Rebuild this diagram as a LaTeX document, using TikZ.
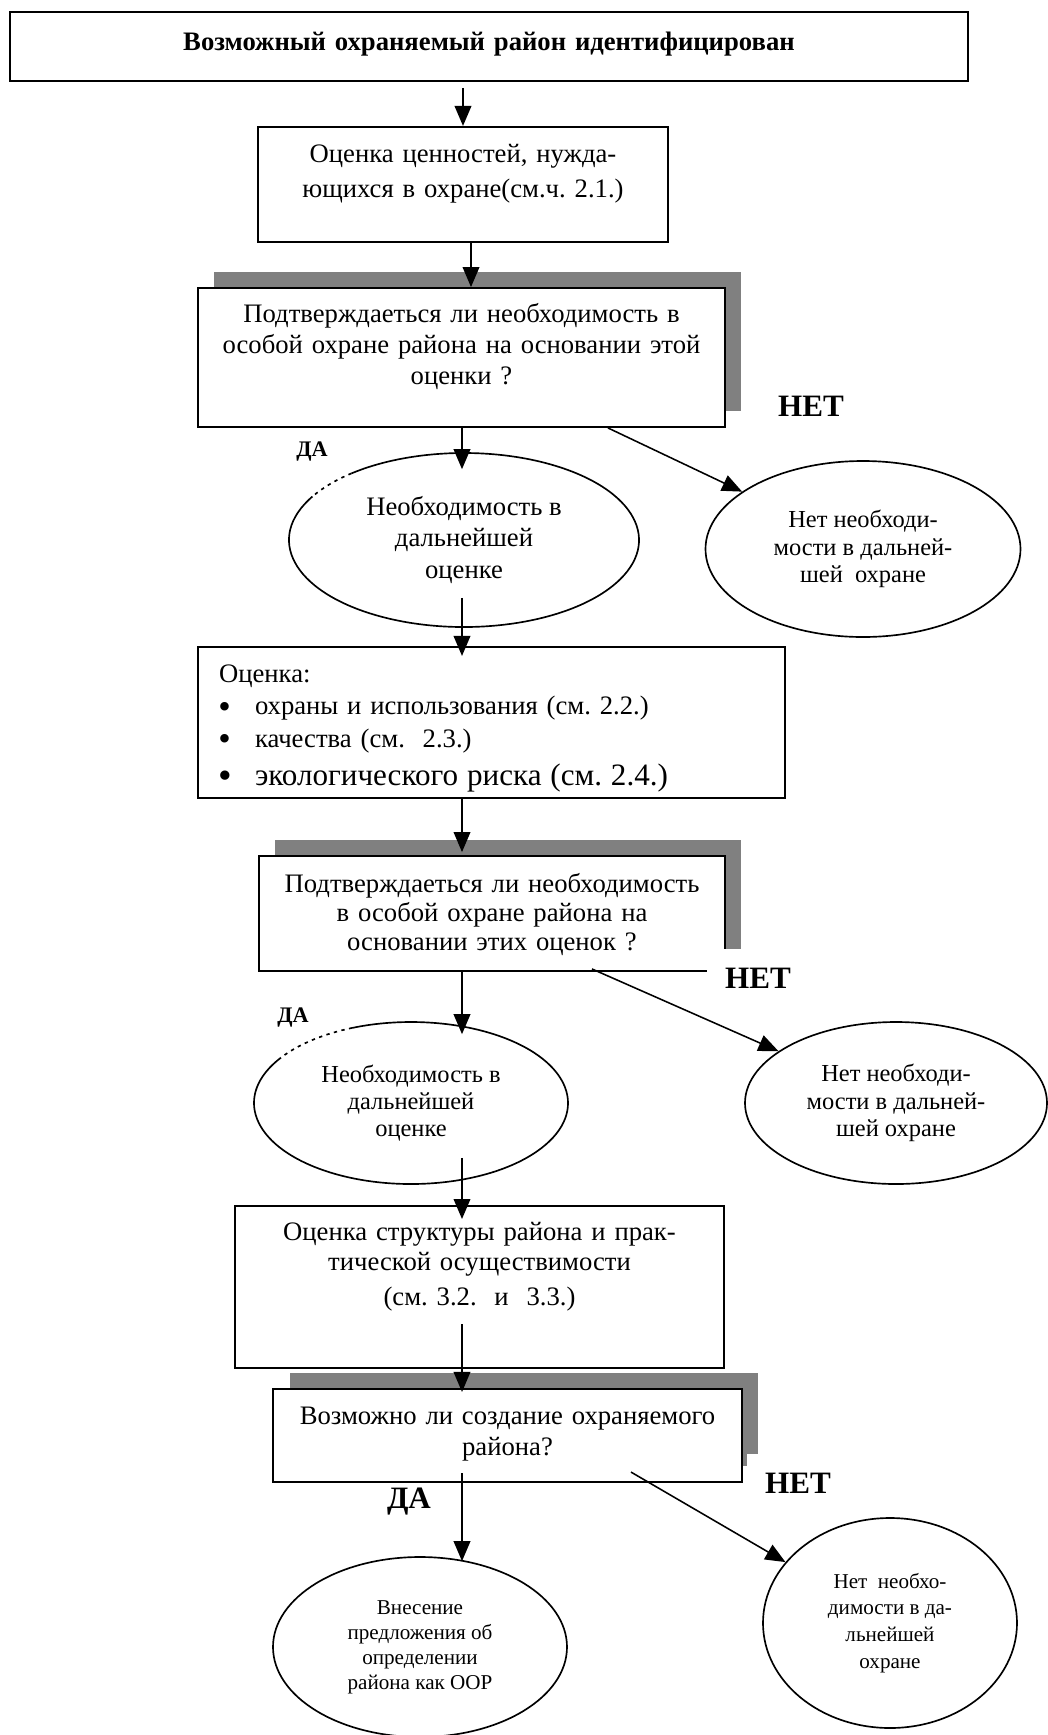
\documentclass[tikz,border=0pt]{standalone}
\usepackage{fontspec}
\setmainfont{Liberation Serif}
\usetikzlibrary{arrows.meta,shapes.geometric,shadows,calc}

\frenchspacing
\newcommand{\bitem}[1][16]{\hspace*{9.2pt}\makebox[16.45pt][l]{\raisebox{-1.4pt}{\fontsize{#1}{#1}\selectfont\textbullet}}}

\begin{document}
\begin{tikzpicture}[
  x=0.45pt, y=-0.45pt,
  box/.style={
    rectangle,
    draw,
    fill=white,
    line width=0.9pt,
    inner xsep=0pt,
    inner ysep=0pt,
    align=center,
    font=\fontsize{12}{14}\selectfont
  },
  shadebox/.style={
    box,
    drop shadow={shadow xshift=7.4pt, shadow yshift=7.4pt, fill=black!50, opacity=1}
  },
  oval/.style={
    ellipse,
    draw,
    line width=0.75pt,
    inner sep=0pt,
    align=center
  },
  rim/.style={line width=0.75pt},
  dotrim/.style={line width=0.75pt, dash pattern=on 1.5pt off 2pt},
  arr/.style={-{Triangle[length=9pt,width=7.5pt]}, line width=0.7pt},
  yeslbl/.style={font=\bfseries\fontsize{10}{12}\selectfont},
  nolbl/.style={font=\bfseries\fontsize{14}{16}\selectfont, fill=white, inner xsep=8pt, inner ysep=8.5pt}
]
\useasboundingbox (0,0) rectangle (1048,1735);
\coordinate (spine) at (462,0);

% boxes
\node[box, text width=431.1pt, text height=17.5pt, text depth=13.5pt,
  font=\bfseries\fontsize{12}{14}\selectfont] (title) at (489,46.5)
  {Возможный охраняемый район идентифицирован};
\node[box, text width=184.5pt, text height=16pt, text depth=35.8pt,
  font=\fontsize{12}{15.75}\selectfont] (value) at (463,184.5)
  {Оценка ценностей, нужда-\\ющихся в охране(см.ч. 2.1.)};
\node[shadebox, text width=237.15pt, text height=15.5pt, text depth=47pt] (check1) at (461.5,357.5)
  {Подтверждаеться ли необходимость в\\особой охране района на основании этой\\оценки ?};
\node[box, align=left, text width=264.15pt, text height=16pt, text depth=52pt,
  font=\fontsize{12}{14.6}\selectfont] (assess) at (491.5,722.5)
  {\hspace*{9.5pt}Оценка:\\
   \bitem охраны и использования (см. 2.2.)\\
   \bitem качества (см.~ 2.3.)\\[2.5pt]
   {\fontsize{14}{16}\selectfont\bitem[17.5]экологического риска (см. 2.4.)}};
\node[shadebox, text width=209.7pt, text height=16.4pt, text depth=35.3pt,
  font=\fontsize{12}{13}\selectfont] (check2) at (492,913.5)
  {Подтверждаеться ли необходимость\\в особой охране района на\\основании этих оценок ?};
\node[box, text width=220pt, text height=15.5pt, text depth=57.4pt,
  font=\fontsize{12}{13.5}\selectfont] (struct) at (479.5,1287)
  {Оценка структуры района и прак-\\тической осуществимости\\[2.25pt](см. 3.2.~ и~ 3.3.)};
\node[shadebox, text width=211pt, text height=16pt, text depth=25.9pt] (check3) at (507.5,1435.5)
  {Возможно ли создание охраняемого\\района?};

% ovals
\node[oval, draw=none, minimum width=157.5pt, minimum height=78.3pt,
  font=\fontsize{12}{14}\selectfont] (need1) at (464,540)
  {Необходимость в\\дальнейшей\\оценке};
\draw[rim] (need1.center) ++(150:78.75pt and 39.15pt)
  arc[start angle=150, end angle=490, x radius=78.75pt, y radius=39.15pt];
\draw[dotrim] (need1.center) ++(130:78.75pt and 39.15pt)
  arc[start angle=130, end angle=150, x radius=78.75pt, y radius=39.15pt];
\node[oval, minimum width=141.75pt, minimum height=79.2pt,
  font=\fontsize{11}{12.4}\selectfont] (none1) at (863,549)
  {Нет необходи-\\мости в дальней-\\шей~ охране};
\node[oval, draw=none, minimum width=141.3pt, minimum height=72.9pt,
  font=\fontsize{11}{12.3}\selectfont] (need2) at (411,1103)
  {Необходимость в\\дальнейшей\\оценке};
\draw[rim] (need2.center) ++(146:70.65pt and 36.45pt)
  arc[start angle=146, end angle=472, x radius=70.65pt, y radius=36.45pt];
\draw[dotrim] (need2.center) ++(112:70.65pt and 36.45pt)
  arc[start angle=112, end angle=146, x radius=70.65pt, y radius=36.45pt];
\node[oval, minimum width=135.9pt, minimum height=72.9pt,
  font=\fontsize{11}{12.3}\selectfont] (none2) at (896,1103)
  {Нет необходи-\\мости в дальней-\\шей охране};
\node[oval, minimum width=132.3pt, minimum height=81pt,
  font=\fontsize{9.5}{11.25}\selectfont] (propose) at (420,1647)
  {Внесение\\предложения об\\определении\\района как ООР};
\node[oval, minimum width=114.3pt, minimum height=94.5pt,
  font=\fontsize{9.5}{12}\selectfont] (none3) at (890,1623)
  {Нет~ необхо-\\димости в да-\\льнейшей\\охране};

% connectors
\draw[arr] ($(title.south -| value.north)+(0,6)$) -- (value.north);
\draw[arr] ($(value.south)+(8,0)$) -- ($(value.south |- check1.north)+(8,0)$);
\draw[arr] (check1.south -| spine) -- ($(need1.north -| spine)+(0,17)$);
\draw[arr] ($(check1.south)+(146.5,0)$) -- (none1);
\draw[arr] ($(need1.south -| spine)+(0,-30)$) -- ($(assess.north -| spine)+(0,10)$);
\draw[arr] (assess.south -| spine) -- ($(check2.north -| spine)+(0,-3)$);
\draw[arr] (check2.south -| spine) -- ($(need2.north -| spine)+(0,13)$);
\draw[arr] ($(check2.south)+(100,-3)$) -- (none2);
\draw[arr] ($(need2.south -| spine)+(0,-27)$) -- ($(struct.north -| spine)+(0,14)$);
\draw[arr] ($(struct.south -| spine)+(0,-45)$) -- ($(check3.north -| spine)+(0,4)$);
\draw[arr] ($(check3.south -| spine)+(0,-10)$) -- ($(propose.north -| spine)+(0,5)$);
\draw[arr] ($(check3.south)+(123.5,-11)$) -- (none3);

% answers
\node[yeslbl] (yes1) at (312,452) {ДА};
\node[nolbl] (no1) at (811,406) {НЕТ};
\node[yeslbl] (yes2) at (293,1018) {ДА};
\node[nolbl] (no2) at (758,978) {НЕТ};
\node[yeslbl, font=\bfseries\fontsize{14}{16}\selectfont] (yes3) at (409,1502) {ДА};
\node[nolbl] (no3) at (798,1483) {НЕТ};
\end{tikzpicture}
\end{document}
